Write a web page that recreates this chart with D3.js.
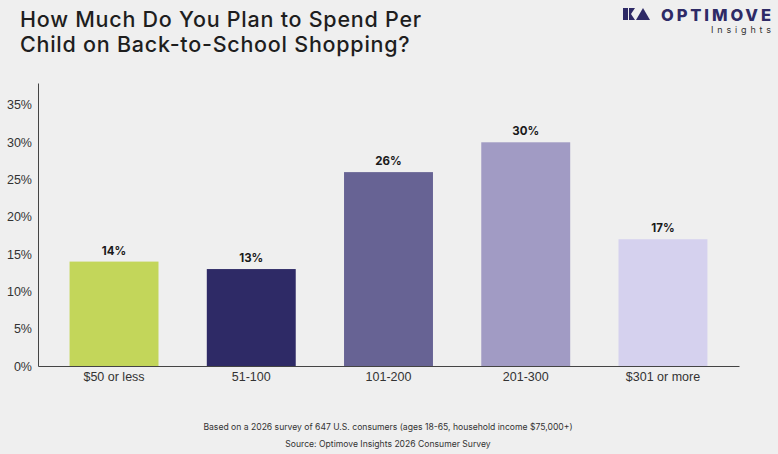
<!DOCTYPE html>
<html lang="en">
<head>
    <meta charset="UTF-8">
    <title>Back-to-School Spending per Child</title>
    <script src="https://d3js.org/d3.v7.min.js"></script>
    <style>
        body { margin: 0; background: #efefef; }
        svg { display: block; font-family: 'Inter', 'Open Sans', sans-serif; }
        .title { font-size: 21.5px; fill: #1e1e1e; font-weight: 500; letter-spacing: 0.75px; }
        .axis text { font-size: 12.5px; fill: #333; }
        .axis path, .axis line { stroke: #444; }
        .val { font-size: 11.5px; font-weight: 700; fill: #1a1a1a; }
        .note { font-size: 8.6px; fill: #333; }
    </style>
</head>
<body>
<script>
    // chart data
    var categories = ["$50 or less", "51-100", "101-200", "201-300", "$301 or more"];
    var values = [14, 13, 26, 30, 17];
    var barColors = ["#c3d65a", "#2e2a66", "#676394", "#a19bc4", "#d5d1ee"];
    var yTicks = [0, 5, 10, 15, 20, 25, 30, 35];

    var W = 778, H = 454;
    var svg = d3.select("body").append("svg")
        .attr("width", W).attr("height", H);

    svg.append("rect").attr("width", W).attr("height", H).attr("fill", "#efefef");

    // title
    var title = svg.append("text").attr("class", "title");
    title.append("tspan").attr("x", 20).attr("y", 27).text("How Much Do You Plan to Spend Per");
    title.append("tspan").attr("x", 20).attr("y", 52).text("Child on Back-to-School Shopping?");

    // logo
    var logo = svg.append("g").attr("fill", "#2e2a66");
    logo.append("path").attr("d", "M623,8 L628,8 L628,20 L623,20 Z");
    logo.append("path").attr("d", "M629,8 L635,8 L631,14 L635,20 L629,20 Z");
    logo.append("path").attr("d", "M643,8 L650,20 L636,20 Z");
    svg.append("text").attr("x", 661).attr("y", 20.5)
        .attr("font-size", 16.5).attr("font-weight", 800).attr("fill", "#2e2a66")
        .attr("textLength", 110).attr("lengthAdjust", "spacing").text("OPTIMOVE");
    svg.append("text").attr("x", 711).attr("y", 33)
        .attr("font-size", 9).attr("fill", "#333")
        .attr("textLength", 60).attr("lengthAdjust", "spacing").text("Insights");

    // scales
    var x0 = 38, x1 = 739, yTop = 83, yBase = 366;
    var x = d3.scaleBand().domain(categories).range([x0, x1])
        .paddingInner(0.352).paddingOuter(0.23);
    var y = d3.scaleLinear().domain([0, 37.95]).range([yBase, yTop]);

    // axes
    svg.append("g").attr("class", "axis")
        .attr("transform", "translate(" + x0 + ",0)")
        .call(d3.axisLeft(y).tickValues(yTicks).tickSize(0).tickPadding(6)
            .tickFormat(function(d) { return d + "%"; }));

    svg.selectAll(".bar").data(values).enter().append("rect")
        .attr("class", "bar")
        .attr("x", function(d, i) { return x(categories[i]); })
        .attr("y", function(d) { return y(d); })
        .attr("width", x.bandwidth())
        .attr("height", function(d) { return yBase - y(d); })
        .attr("fill", function(d, i) { return barColors[i]; });

    svg.append("g").attr("class", "axis")
        .attr("transform", "translate(0," + yBase + ")")
        .call(d3.axisBottom(x).tickSize(0).tickPadding(6).tickSizeOuter(0));

    svg.selectAll(".val").data(values).enter().append("text")
        .attr("class", "val")
        .attr("text-anchor", "middle")
        .attr("x", function(d, i) { return x(categories[i]) + x.bandwidth() / 2; })
        .attr("y", function(d) { return y(d) - 7; })
        .text(function(d) { return d + "%"; });

    // notes
    svg.append("text").attr("class", "note").attr("x", 388).attr("y", 430)
        .attr("text-anchor", "middle")
        .text("Based on a 2026 survey of 647 U.S. consumers (ages 18-65, household income $75,000+)");
    svg.append("text").attr("class", "note").attr("x", 388).attr("y", 447)
        .attr("text-anchor", "middle")
        .text("Source: Optimove Insights 2026 Consumer Survey");
</script>
</body>
</html>
